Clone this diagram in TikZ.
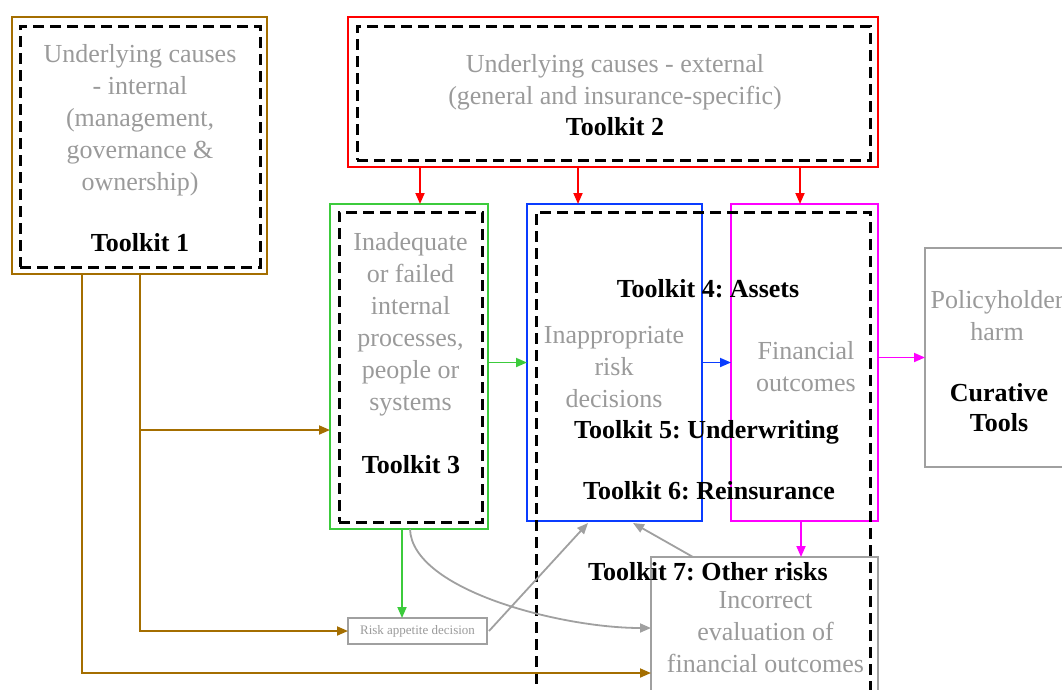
\documentclass[tikz,border=0pt]{standalone}
\usepackage{fontspec}
\setmainfont{Liberation Serif}
\usetikzlibrary{arrows.meta}
\definecolor{brn}{HTML}{A46E00}
\definecolor{grn}{HTML}{3CCB3C}
\definecolor{blu}{HTML}{0A3CFF}
\definecolor{mag}{HTML}{FF00FF}
\definecolor{redc}{HTML}{FF0000}
\definecolor{gtext}{HTML}{9A9A9A}
\definecolor{gline}{HTML}{A0A0A0}
\frenchspacing
\begin{document}
\begin{tikzpicture}[x=1pt,y=-1pt,
  box/.style={draw, line width=2pt, inner sep=0pt, outer sep=0pt, anchor=north west},
  dbox/.style={draw=black, line width=3pt, dash pattern=on 11pt off 6pt, inner sep=0pt, outer sep=0pt, anchor=north west},
  gtxt/.style={text=gtext, align=center, font=\fontsize{26}{32}\selectfont, inner sep=0pt},
  btxt/.style={text=black, align=center, font=\fontsize{26}{30}\selectfont\bfseries, inner sep=0pt},
  arr/.style={line width=1.8pt, -{Triangle[length=11pt,width=9pt]}},
]
\useasboundingbox (0,0) rectangle (1062,689);
\clip (0,0) rectangle (1062,689);

% boxes
\node[box, draw=brn, minimum width=255pt, minimum height=257pt] (tk1) at (12,17) {};
\node[dbox, minimum width=240pt, minimum height=241pt] (d1) at (20,26) {};
\node[box, draw=redc, minimum width=530pt, minimum height=150pt] (red) at (348,17) {};
\node[dbox, minimum width=513pt, minimum height=134pt] (d2) at (357,26) {};
\node[box, draw=grn, minimum width=158pt, minimum height=325pt] (green) at (330,204) {};
\node[dbox, minimum width=143pt, minimum height=310pt] (d3) at (339,212) {};
\node[box, draw=blu, minimum width=175pt, minimum height=317pt] (blue) at (527,204) {};
\node[box, draw=mag, minimum width=147pt, minimum height=317pt] (magenta) at (731,204) {};
\node[box, draw=gline, minimum width=145pt, minimum height=219pt] (policy) at (925,248) {};
\node[box, draw=gline, minimum width=227pt, minimum height=170pt] (incorrect) at (651,557) {};
\node[dbox, minimum width=334pt, minimum height=520pt] (d4) at (536,212) {};
\node[draw=gline, line width=1.6pt, minimum width=139pt, minimum height=26pt, inner sep=0pt, outer sep=0pt,
      text=gtext, font=\fontsize{13}{15}\selectfont] (risk) at (417.5,631) {Risk appetite decision};

% texts
\node[gtxt] (t1) at (140,120.5) {Underlying causes\\- internal\\(management,\\governance \&\\ownership)};
\node[btxt] (k1) at (140,243) {Toolkit 1};
\node[gtxt] (t2) at (615,82) {Underlying causes - external\\(general and insurance-specific)};
\node[btxt] (k2) at (615,127) {Toolkit 2};
\node[gtxt] (t3) at (410.5,324) {Inadequate\\or failed\\internal\\processes,\\people or\\systems};
\node[btxt] (k3) at (411,465) {Toolkit 3};
\node[gtxt] (t4) at (614,367) {Inappropriate\\risk\\decisions};
\node[gtxt] (t5) at (806,367) {Financial\\outcomes};
\node[gtxt] (t6) at (997,316) {Policyholder\\harm};
\node[btxt] (k6) at (999,408) {Curative\\Tools};
\node[gtxt] (t7) at (765.5,632) {Incorrect\\evaluation of\\financial outcomes};
\node[btxt] (k4) at (708,289) {Toolkit 4: Assets};
\node[btxt] (k5) at (706.5,432) {Toolkit 5: Underwriting};
\node[btxt] (k6b) at (709,491) {Toolkit 6: Reinsurance};
\node[btxt] (k7) at (708,572) {Toolkit 7: Other risks};

% brown connectors
\coordinate (bx1) at ([xshift=70pt]tk1.south west);
\coordinate (bx2) at ([xshift=128pt]tk1.south west);
\coordinate (g430) at ([yshift=-226pt]green.north west);
\draw[arr, draw=brn] (bx1) |- ([yshift=-116pt]incorrect.north west);
\draw[arr, draw=brn] (bx2) |- (risk.west);
\draw[arr, draw=brn] (bx2 |- g430) -- (g430);

% red connectors
\draw[arr, draw=redc] ([xshift=90pt]green.north west |- red.south) -- ([xshift=90pt]green.north west);
\draw[arr, draw=redc] ([xshift=51pt]blue.north west |- red.south) -- ([xshift=51pt]blue.north west);
\draw[arr, draw=redc] ([xshift=69pt]magenta.north west |- red.south) -- ([xshift=69pt]magenta.north west);

% green connectors
\draw[arr, draw=grn] (green.east |- blue.west) -- (blue.west);
\draw[arr, draw=grn] ([xshift=72pt]green.south west) -- ([xshift=72pt]green.south west |- risk.north);

% blue, magenta
\draw[arr, draw=blu] (blue.east) -- (magenta.west);
\draw[arr, draw=mag] (magenta.east |- policy.west) -- (policy.west);
\draw[arr, draw=mag] ([xshift=70pt]magenta.south west) -- ([xshift=70pt]magenta.south west |- incorrect.north);

% gray connectors
\draw[arr, draw=gline] ([xshift=2pt]risk.east) -- ([xshift=61pt,yshift=-2pt]blue.south west);
\draw[arr, draw=gline] ([xshift=42pt]incorrect.north west) -- ([xshift=106pt,yshift=-2pt]blue.south west);
\draw[arr, draw=gline] ([xshift=80pt]green.south west) .. controls +(2,61) and +(-90,0) .. ([yshift=-71pt]incorrect.north west);
\end{tikzpicture}
\end{document}
